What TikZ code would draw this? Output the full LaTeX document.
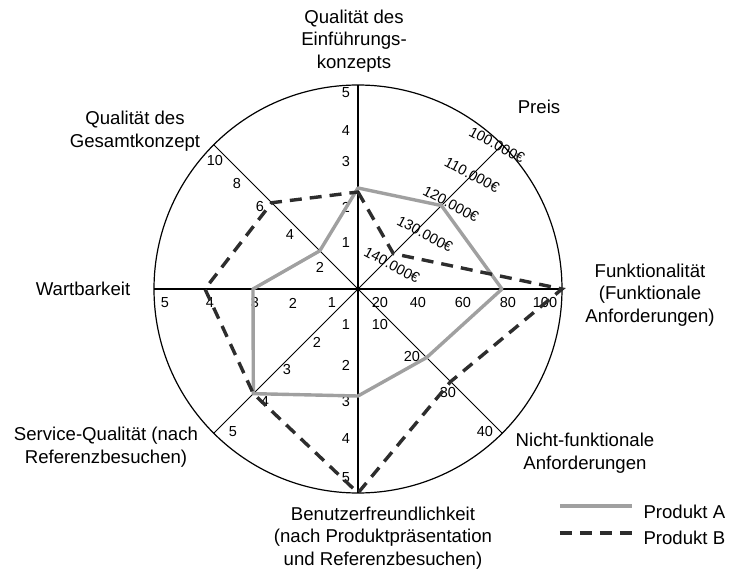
\documentclass[tikz,border=0pt]{standalone}
\usepackage{fontspec}
\setmainfont{Liberation Sans}
\usepackage{xcolor}
\definecolor{prodA}{RGB}{160,160,160}
\definecolor{prodB}{RGB}{45,45,45}

\begin{document}
\begin{tikzpicture}[x=1pt,y=1pt,
    achse/.style={line width=1.2pt},
    titel/.style={align=center,font=\fontsize{18.6}{22.5}\selectfont},
    zahl/.style={font=\fontsize{14.5}{16}\selectfont,inner sep=0pt},
    linieA/.style={prodA,line width=3.4pt,line join=round},
    linieB/.style={prodB,line width=3.4pt,dash pattern=on 12pt off 8pt}]
\useasboundingbox (-358,-285) rectangle (374,289);
\draw[achse] (0,0) circle (204pt);
\draw[achse] (-204,0)--(204,0);
\draw[achse] (0,204)--(0,-204);
\foreach \w in {45,135,225,315}\draw[line width=1pt] (0,0)--(\w:204);
\foreach \t/\y in {1/46,2/82,3/127,4/158,5/196}\node[zahl] (oben\t) at (-12,\y){\t};
\foreach \t/\y in {1/36,2/76,3/113,4/150,5/189}\node[zahl] (unten\t) at (-12,-\y){\t};
\foreach \t/\x in {1/26,2/65,3/103,4/148,5/193}\node[zahl] (links\t) at (-\x,-14){\t};
\foreach \t/\x in {20/22,40/60,60/105,80/150,100/187}\node[zahl] (rechts\t) at (\x,-14){\t};
\foreach \t/\x/\y in {10/22/-36,20/54/-68,30/90/-104,40/127/-143}\node[zahl] (so\t) at (\x,\y){\t};
\foreach \t/\x/\y in {2/-41/-53,3/-71/-81,4/-93/-113,5/-125/-143}\node[zahl] (sw\t) at (\x,\y){\t};
\foreach \t/\x/\y in {2/-38/22,4/-68/54,6/-98/82,8/-121/105,10/-143/128}\node[zahl] (nw\t) at (\x,\y){\t};
\foreach \t/\x/\y [count=\i] in {100.000/139/144,110.000/114/114,120.000/93/85,130.000/67/55,140.000/34/24}
    \node[zahl,rotate=-28] (preis\i) at (\x,\y){\t€};
\path (0,101) coordinate (a1) (45:118) coordinate (a2) (144,0) coordinate (a3) (-45:97) coordinate (a4)
    (0,-107) coordinate (a5) (225:148) coordinate (a6) (-105,0) coordinate (a7) (135:54) coordinate (a8);
\path (0,97) coordinate (b1) (45:50) coordinate (b2) (204,0) coordinate (b3) (-45:131) coordinate (b4)
    (0,-204) coordinate (b5) (225:148) coordinate (b6) (-153,0) coordinate (b7) (135:122) coordinate (b8);
\draw[linieA] (a1)--(a2)--(a3)--(a4)--(a5)--(a6)--(a7)--(a8)--cycle;
\draw[linieB] (b1)--(b2)--(b3)--(b4)--(b5)--(b6)--(b7)--(b8)--cycle;
\node[titel] (einf) at (-4,248) {Qualität des\\Einführungs-\\konzepts};
\node[titel] (preis) at (181,182) {Preis};
\node[titel] (gesamt) at (-223,158) {Qualität des\\Gesamtkonzept};
\node[titel] (wart) at (-275,0) {Wartbarkeit};
\node[titel] (funk) at (292,-6) {Funktionalität\\(Funktionale\\Anforderungen)};
\node[titel] (nfunk) at (227,-164) {Nicht-funktionale\\Anforderungen};
\node[titel] (benutzer) at (25,-249) {Benutzerfreundlichkeit\\(nach Produktpräsentation\\und Referenzbesuchen)};
\node[titel] (service) at (-252,-158) {Service-Qualität (nach\\Referenzbesuchen)};
\coordinate (la1) at (202,-217); \coordinate (la2) at (274,-217);
\coordinate (lb1) at (202,-244); \coordinate (lb2) at (274,-244);
\draw[linieA] (la1)--(la2);
\draw[linieB] (lb1)--(lb2);
\node[titel,anchor=west] (legA) at (282,-223) {Produkt A};
\node[titel,anchor=west] (legB) at (282,-249) {Produkt B};
\end{tikzpicture}
\end{document}
